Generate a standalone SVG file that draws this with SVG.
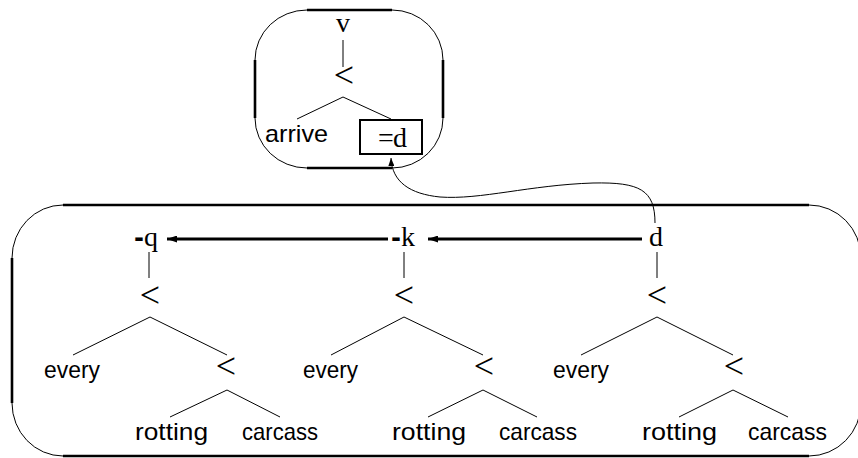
<svg xmlns="http://www.w3.org/2000/svg" width="858" height="458" viewBox="0 0 858 458">
<style>
.bg{fill:#fff}
.thin{fill:none;stroke:#000;stroke-width:1}
.thick{fill:none;stroke:#000;stroke-width:2.6}
.edge{fill:none;stroke:#000;stroke-width:1}
.arr{fill:none;stroke:#000;stroke-width:3}
.word{font-family:"Liberation Sans",Arial,sans-serif;font-size:24px;fill:#000}
.tt{font-family:"Liberation Serif","Times New Roman",serif;font-size:28px;fill:#000}
.lt{font-family:"Liberation Serif","Times New Roman",serif;font-size:36px;fill:#000;text-anchor:middle}
.dash{font-family:"DejaVu Sans",sans-serif;font-weight:bold;font-size:24px}
</style>
<defs>
<marker id="ah" viewBox="0 0 10 7" markerWidth="10" markerHeight="7" refX="10" refY="3.5" orient="auto" markerUnits="userSpaceOnUse"><path d="M0,0 L10,3.5 L0,7 z" fill="#000"/></marker>
<marker id="ahs" viewBox="0 0 8 6" markerWidth="8" markerHeight="6" refX="8" refY="3" orient="auto" markerUnits="userSpaceOnUse"><path d="M0,0 L8,3 L0,6 z" fill="#000"/></marker>
</defs>
<rect class="bg" x="0" y="0" width="858" height="458"/>

<g id="box-upper">
<path class="thin" d="M307,10 L392,10 A51,50 0 0 1 443,60 L443,118 A51,50 0 0 1 392,168 L307,168 A52,50 0 0 1 255,118 L255,60 A52,50 0 0 1 307,10 Z"/>
<path class="thick" d="M307,10 L392,10 M443,60 L443,118 M392,168 L307,168 M255,118 L255,60"/>
</g>
<g id="box-lower">
<path class="thin" d="M63,205 L809,205 A52,53 0 0 1 861,258 L861,403 A52,53 0 0 1 809,456 L63,456 A51,53 0 0 1 12,403 L12,258 A51,53 0 0 1 63,205 Z"/>
<path class="thick" d="M63,205 L809,205 M809,456 L63,456 M12,403 L12,258"/>
</g>

<g id="connectors">
<line class="edge" x1="343" y1="40" x2="343" y2="67"/>
<line class="edge" x1="343" y1="97" x2="297" y2="119"/>
<line class="edge" x1="343" y1="97" x2="391" y2="119"/>
<line class="edge" x1="149" y1="252" x2="149" y2="278"/>
<line class="edge" x1="150" y1="317" x2="73" y2="355"/>
<line class="edge" x1="150" y1="317" x2="227" y2="355"/>
<line class="edge" x1="227" y1="390" x2="170" y2="417"/>
<line class="edge" x1="227" y1="390" x2="280" y2="417"/>
<line class="edge" x1="404" y1="252" x2="404" y2="278"/>
<line class="edge" x1="404" y1="317" x2="331" y2="355"/>
<line class="edge" x1="404" y1="317" x2="483" y2="355"/>
<line class="edge" x1="483" y1="390" x2="428" y2="417"/>
<line class="edge" x1="483" y1="390" x2="537" y2="417"/>
<line class="edge" x1="657" y1="252" x2="657" y2="278"/>
<line class="edge" x1="657" y1="317" x2="581" y2="355"/>
<line class="edge" x1="657" y1="317" x2="733" y2="355"/>
<line class="edge" x1="733" y1="390" x2="679" y2="417"/>
<line class="edge" x1="733" y1="390" x2="788" y2="417"/>
<line class="arr" x1="642" y1="239" x2="428" y2="239" marker-end="url(#ah)"/>
<line class="arr" x1="388" y1="239" x2="167" y2="239" marker-end="url(#ah)"/>
<path class="edge" d="M655,223 C655,190 640,182 593,183 C530,185 480,200 440,197 C410,194 392,182 391,158" marker-end="url(#ahs)"/>
</g>

<g id="n-v"><text class="tt" x="343" y="32" text-anchor="middle" font-size="30">v</text></g>
<g id="n-lt0"><text class="lt" x="344" y="87">&lt;</text></g>
<g id="n-arrive"><text class="word" x="265" y="142" textLength="63" lengthAdjust="spacingAndGlyphs">arrive</text></g>
<g id="n-eqd"><rect class="thick" x="360" y="120" width="62" height="34" style="stroke-width:2"/><text class="tt" x="392" y="147" text-anchor="middle" letter-spacing="-1">=d</text></g>

<g id="n-q"><text class="tt" x="134" y="246"><tspan class="dash">-</tspan>q</text></g>
<g id="n-k"><text class="tt" x="391" y="246"><tspan class="dash">-</tspan>k</text></g>
<g id="n-d"><text class="tt" x="656" y="246" text-anchor="middle">d</text></g>

<g id="n-lt1"><text class="lt" x="150" y="307">&lt;</text></g>
<g id="n-every1"><text class="word" x="44" y="378" textLength="56" lengthAdjust="spacingAndGlyphs">every</text></g>
<g id="n-lt1b"><text class="lt" x="226" y="378">&lt;</text></g>
<g id="n-rotting1"><text class="word" x="135" y="440" textLength="73" lengthAdjust="spacingAndGlyphs">rotting</text></g>
<g id="n-carcass1"><text class="word" x="242" y="440" textLength="76" lengthAdjust="spacingAndGlyphs">carcass</text></g>

<g id="n-lt2"><text class="lt" x="404" y="307">&lt;</text></g>
<g id="n-every2"><text class="word" x="303" y="378" textLength="55" lengthAdjust="spacingAndGlyphs">every</text></g>
<g id="n-lt2b"><text class="lt" x="484" y="378">&lt;</text></g>
<g id="n-rotting2"><text class="word" x="392" y="440" textLength="74" lengthAdjust="spacingAndGlyphs">rotting</text></g>
<g id="n-carcass2"><text class="word" x="499" y="440" textLength="78" lengthAdjust="spacingAndGlyphs">carcass</text></g>

<g id="n-lt3"><text class="lt" x="657" y="307">&lt;</text></g>
<g id="n-every3"><text class="word" x="553" y="378" textLength="56" lengthAdjust="spacingAndGlyphs">every</text></g>
<g id="n-lt3b"><text class="lt" x="734" y="378">&lt;</text></g>
<g id="n-rotting3"><text class="word" x="642" y="440" textLength="75" lengthAdjust="spacingAndGlyphs">rotting</text></g>
<g id="n-carcass3"><text class="word" x="748" y="440" textLength="79" lengthAdjust="spacingAndGlyphs">carcass</text></g>
</svg>
